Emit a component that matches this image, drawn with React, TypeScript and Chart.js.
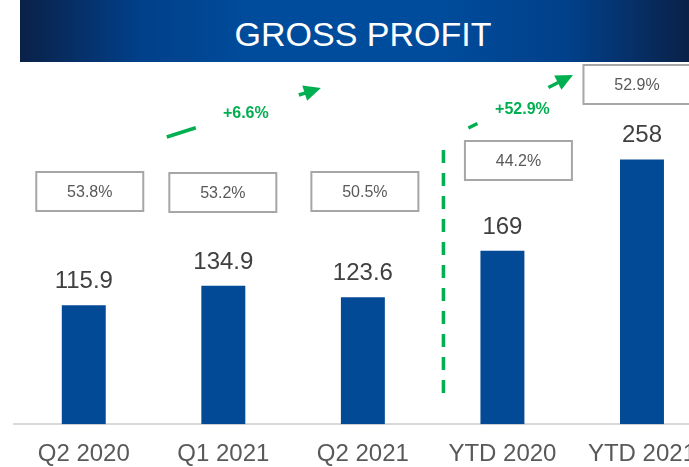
import React, { useEffect, useRef } from "react";
import { Chart, registerables } from "chart.js";

Chart.register(...registerables);

// ---- data ----
const categories = ["Q2 2020", "Q1 2021", "Q2 2021", "YTD 2020", "YTD 2021"];
const grossProfit = [115.9, 134.9, 123.6, 169, 258];
const marginLabels = ["53.8%", "53.2%", "50.5%", "44.2%", "52.9%"];
const growthLabels = ["+6.6%", "+52.9%"];
const yMax = 349;

// ---- layout (annotation placement, px) ----
const boxDx = [6, -0.5, 2, 16, -5];
const boxTop = [172, 173, 172, 141, 65];
const BOX_W = 107;
const BOX_H = 39;
const arrows = [
  { sc: 0, sdx: 83, sy: 137, tc: 2, tdx: -42, ty: 88, g0c: 0, g0dx: 112, g1c: 2, g1dx: -64, lc: 1, ldx: 22.5, ly: 112 },
  { sc: 3, sdx: -34, sy: 128, tc: 4, tdx: -69, ty: 75, g0c: 3, g0dx: -25, g1c: 3, g1dx: 46, lc: 3, ldx: 20, ly: 108 },
];
const divider = { cat: 3, dx: -59, y0: 150, y1: 397 };

const GREEN = "#00b050";
const FONT = "'Liberation Sans', Arial, sans-serif";

const annotations = {
  id: "annotations",
  afterDatasetsDraw(chart: any) {
    const ctx = chart.ctx as CanvasRenderingContext2D;
    const xs = chart.scales.x;
    const cx = (i: number) => xs.getPixelForValue(i);
    const meta = chart.getDatasetMeta(0);
    ctx.save();
    meta.data.forEach((bar: any, i: number) => {
      ctx.fillStyle = "#404040";
      ctx.font = `24px ${FONT}`;
      ctx.textAlign = "center";
      ctx.textBaseline = "alphabetic";
      ctx.fillText(String(grossProfit[i]), bar.x, bar.y - 17);

      const bx = bar.x + boxDx[i];
      ctx.strokeStyle = "#a6a6a6";
      ctx.lineWidth = 2;
      ctx.strokeRect(bx - BOX_W / 2, boxTop[i], BOX_W, BOX_H);
      ctx.fillStyle = "#595959";
      ctx.font = `16px ${FONT}`;
      ctx.fillText(marginLabels[i], bx, boxTop[i] + 25.3);
    });

    // divider
    const dX = cx(divider.cat) + divider.dx;
    ctx.strokeStyle = GREEN;
    ctx.lineWidth = 3.5;
    ctx.setLineDash([13, 10]);
    ctx.beginPath();
    ctx.moveTo(dX, divider.y0);
    ctx.lineTo(dX, divider.y1);
    ctx.stroke();
    ctx.setLineDash([]);

    // arrows
    arrows.forEach((a, k) => {
      const x0 = cx(a.sc) + a.sdx;
      const y0 = a.sy;
      const x1 = cx(a.tc) + a.tdx;
      const y1 = a.ty;
      const yAt = (x: number) => y0 + ((x - x0) / (x1 - x0)) * (y1 - y0);
      const g0 = cx(a.g0c) + a.g0dx;
      const g1 = cx(a.g1c) + a.g1dx;
      const ang = Math.atan2(y1 - y0, x1 - x0);
      const headLen = 17;
      const headHalf = 8;
      const hbx = x1 - headLen * Math.cos(ang);
      const hby = y1 - headLen * Math.sin(ang);
      ctx.strokeStyle = GREEN;
      ctx.fillStyle = GREEN;
      ctx.lineWidth = 3.5;
      ctx.lineCap = "butt";
      ctx.beginPath();
      ctx.moveTo(x0, y0);
      ctx.lineTo(g0, yAt(g0));
      ctx.moveTo(g1, yAt(g1));
      ctx.lineTo(hbx + 1 * Math.cos(ang), hby + 1 * Math.sin(ang));
      ctx.stroke();
      ctx.beginPath();
      ctx.moveTo(x1, y1);
      ctx.lineTo(hbx - headHalf * Math.sin(ang), hby + headHalf * Math.cos(ang));
      ctx.lineTo(hbx + headHalf * Math.sin(ang), hby - headHalf * Math.cos(ang));
      ctx.closePath();
      ctx.fill();

      ctx.font = `bold 16px ${FONT}`;
      ctx.textAlign = "center";
      ctx.fillText(growthLabels[k], cx(a.lc) + a.ldx, a.ly + 5.5);
    });
    ctx.restore();
  },
};

export default function App() {
  const ref = useRef<HTMLCanvasElement>(null);
  useEffect(() => {
    if (!ref.current) return;
    const chart = new Chart(ref.current, {
      type: "bar",
      data: {
        labels: categories,
        datasets: [
          {
            data: grossProfit,
            backgroundColor: "#034a96",
            categoryPercentage: 1,
            barPercentage: 0.315,
          },
        ],
      },
      options: {
        responsive: false,
        animation: false,
        devicePixelRatio: 1,
        layout: { padding: { left: 14, right: 8.25, top: 66, bottom: 0 } },
        plugins: { legend: { display: false }, tooltip: { enabled: false }, title: { display: false } },
        scales: {
          x: {
            grid: { display: false, drawTicks: false },
            border: { display: true, color: "#d9d9d9", width: 2 },
            ticks: {
              color: "#595959",
              font: { family: FONT, size: 24 },
              padding: 16,
              maxRotation: 0,
              autoSkip: false,
            },
          },
          y: { display: false, min: 0, max: yMax },
        },
      },
      plugins: [annotations],
    });
    return () => chart.destroy();
  }, []);

  return (
    <div style={{ position: "fixed", left: 0, top: 0, width: 689, height: 467, overflow: "hidden", background: "#fff" }}>
      <canvas ref={ref} width={720} height={485} style={{ position: "absolute", left: 0, top: 0 }} />
      <div
        style={{
          position: "absolute",
          left: 20,
          top: 0,
          width: 669,
          height: 62,
          background:
            "linear-gradient(90deg, #0a2148 0%, #01408a 18%, #004c9c 35%, #004c9c 62%, #01408a 82%, #0a2148 100%)",
        }}
      />
      <div
        style={{
          position: "absolute",
          left: 363,
          top: 0,
          height: 62,
          lineHeight: "68px",
          transform: "translateX(-50%)",
          color: "#fff",
          fontFamily: FONT,
          fontSize: 34,
          whiteSpace: "nowrap",
        }}
      >
        GROSS PROFIT
      </div>
    </div>
  );
}
